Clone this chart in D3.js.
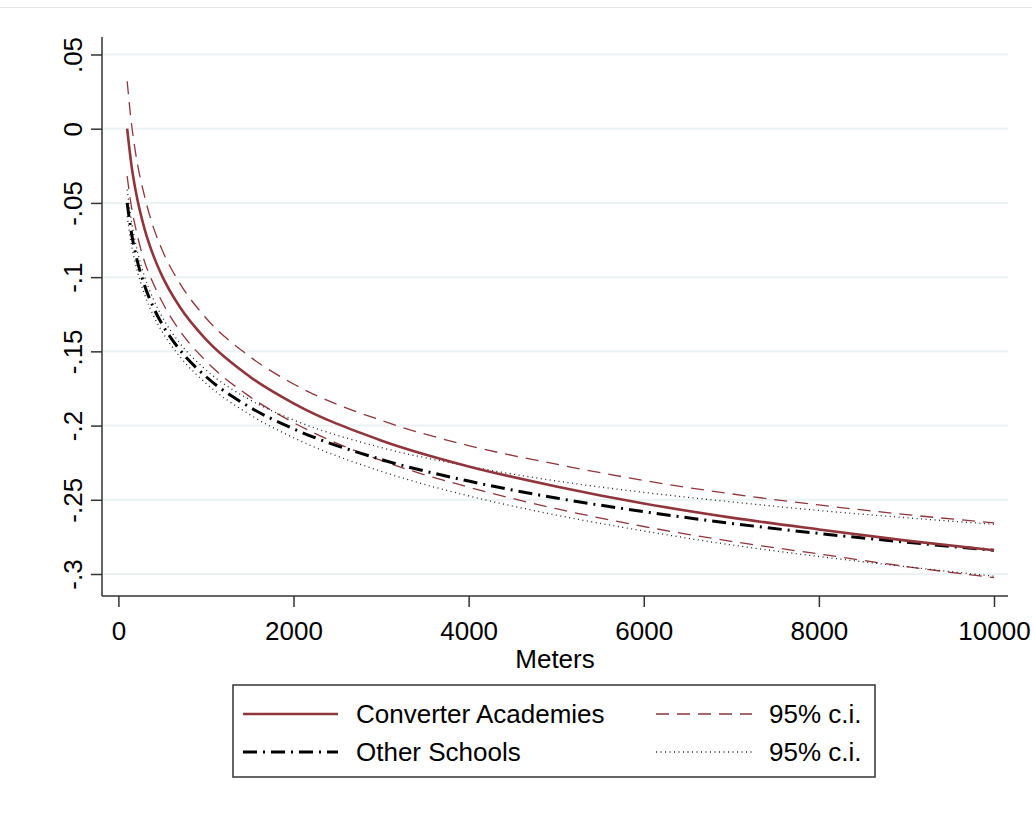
<!DOCTYPE html>
<html>
<head>
<meta charset="utf-8">
<script src="https://cdn.jsdelivr.net/npm/d3@7"></script>
<style>
  html, body { margin: 0; padding: 0; background: #fff; }
  svg { display: block; }
  text { font-family: "Liberation Sans", Arial, Helvetica, sans-serif; fill: #000; }
</style>
</head>
<body>
<script>
// ---- data ----
const meters = [100, 150, 200, 300, 400, 500, 700, 1000, 1500, 2000, 3000, 4000, 5000, 6000, 7000, 8000, 9000, 10000];
const converter = [0, -0.025, -0.0427, -0.0678, -0.0855, -0.0993, -0.120, -0.142, -0.167, -0.185, -0.210, -0.2275, -0.241, -0.2525, -0.262, -0.270, -0.2775, -0.284];
const converterUpper = [0.032, 0.003, -0.0177, -0.0458, -0.0665, -0.0818, -0.104, -0.1275, -0.1535, -0.172, -0.1965, -0.2135, -0.226, -0.237, -0.246, -0.2535, -0.260, -0.2655];
const converterLower = [-0.032, -0.053, -0.0677, -0.0898, -0.1045, -0.1168, -0.136, -0.1565, -0.1805, -0.198, -0.2235, -0.2415, -0.256, -0.268, -0.278, -0.2865, -0.295, -0.3025];
const other = [-0.050, -0.0706, -0.0852, -0.1058, -0.1204, -0.1318, -0.1489, -0.167, -0.1876, -0.2022, -0.2228, -0.2374, -0.2488, -0.2580, -0.2659, -0.2727, -0.2786, -0.284];
const otherUpper = [-0.041, -0.0626, -0.0782, -0.0998, -0.1149, -0.1268, -0.1444, -0.1625, -0.1826, -0.1962, -0.2148, -0.2274, -0.2373, -0.245, -0.2514, -0.2572, -0.2621, -0.2665];
const otherLower = [-0.059, -0.0786, -0.0922, -0.1118, -0.1259, -0.1368, -0.1534, -0.1715, -0.1926, -0.2082, -0.2308, -0.2474, -0.2603, -0.271, -0.2804, -0.2882, -0.2951, -0.3015];

const xTicks = [0, 2000, 4000, 6000, 8000, 10000];
const yTicks = [0.05, 0, -0.05, -0.1, -0.15, -0.2, -0.25, -0.3];
const yTickLabels = [".05", "0", "-.05", "-.1", "-.15", "-.2", "-.25", "-.3"];
const xTitle = "Meters";
const legendLabels = ["Converter Academies", "95% c.i.", "Other Schools", "95% c.i."];

// ---- layout ----
const W = 1032, H = 814;
const plot = { left: 102, right: 1008, top: 37, bottom: 596 };
const cranberry = "#90353b";

const svg = d3.select("body").append("svg").attr("width", W).attr("height", H);
svg.append("rect").attr("width", W).attr("height", H).attr("fill", "#fff");
svg.append("line").attr("x1", 0).attr("x2", W).attr("y1", 7.5).attr("y2", 7.5)
  .attr("stroke", "#e6e6e6").attr("stroke-width", 1);

const x = d3.scaleLinear().domain([0, 10000]).range([118.4, 994]);
const y = d3.scaleLinear().domain([0, -0.3]).range([128.7, 574]);

// gridlines
svg.append("g").selectAll("line").data(yTicks).join("line")
  .attr("x1", plot.left).attr("x2", plot.right)
  .attr("y1", d => y(d)).attr("y2", d => y(d))
  .attr("stroke", "#eaf2f3").attr("stroke-width", 2);

// y axis
const yAxis = d3.axisLeft(y).tickValues(yTicks).tickSize(11).tickFormat((d, i) => yTickLabels[i]);
const gy = svg.append("g").attr("transform", `translate(${plot.left},0)`).call(yAxis);
gy.select(".domain").remove();
gy.selectAll(".tick line").attr("stroke", "#333").attr("stroke-width", 1.5);
gy.selectAll(".tick text")
  .attr("x", 0).attr("dy", null).attr("y", 0)
  .attr("transform", "translate(-20,0) rotate(-90)")
  .attr("text-anchor", "middle")
  .style("font-size", "26px")
  .style("font-family", "'Liberation Sans', Arial, sans-serif")
  .attr("fill", "#000");
svg.append("line").attr("x1", plot.left).attr("x2", plot.left)
  .attr("y1", plot.top).attr("y2", plot.bottom).attr("stroke", "#333").attr("stroke-width", 1.5);

// x axis
const xAxis = d3.axisBottom(x).tickValues(xTicks).tickSize(11).tickFormat(d3.format("d"));
const gx = svg.append("g").attr("transform", `translate(0,${plot.bottom})`).call(xAxis);
gx.select(".domain").remove();
gx.selectAll(".tick line").attr("stroke", "#333").attr("stroke-width", 1.5);
gx.selectAll(".tick text")
  .attr("y", 43.5).attr("dy", null)
  .style("font-size", "26px")
  .style("font-family", "'Liberation Sans', Arial, sans-serif")
  .attr("fill", "#000");
svg.append("line").attr("x1", plot.left).attr("x2", plot.right)
  .attr("y1", plot.bottom).attr("y2", plot.bottom).attr("stroke", "#333").attr("stroke-width", 1.5);

svg.append("text").attr("x", (plot.left + plot.right) / 2).attr("y", 668)
  .attr("text-anchor", "middle").style("font-size", "26px").text(xTitle);

// series
const line = d3.line().x(d => x(d[0])).y(d => y(d[1])).curve(d3.curveMonotoneX);
const series = [
  { vals: converterUpper, stroke: cranberry, width: 1.3, dash: "13,8" },
  { vals: converterLower, stroke: cranberry, width: 1.3, dash: "13,8" },
  { vals: otherUpper, stroke: "#222", width: 1.3, dash: "1,3.5" },
  { vals: otherLower, stroke: "#222", width: 1.3, dash: "1,3.5" },
  { vals: other, stroke: "#000", width: 3, dash: "14,6,2,6" },
  { vals: converter, stroke: cranberry, width: 2.6, dash: null }
];
series.forEach(s => {
  svg.append("path")
    .datum(meters.map((m, i) => [m, s.vals[i]]))
    .attr("d", line)
    .attr("fill", "none")
    .attr("stroke", s.stroke)
    .attr("stroke-width", s.width)
    .attr("stroke-dasharray", s.dash);
});

// legend
const lg = svg.append("g");
lg.append("rect").attr("x", 233).attr("y", 685).attr("width", 642).attr("height", 92)
  .attr("fill", "#fff").attr("stroke", "#333").attr("stroke-width", 1.5);
const legendItems = [
  { x1: 243, x2: 338, ty: 714, tx: 356, stroke: cranberry, width: 2.6, dash: null, label: legendLabels[0] },
  { x1: 656, x2: 752, ty: 714, tx: 769, stroke: cranberry, width: 1.3, dash: "13,8", label: legendLabels[1] },
  { x1: 243, x2: 338, ty: 752, tx: 356, stroke: "#000", width: 3, dash: "14,6,2,6", label: legendLabels[2] },
  { x1: 656, x2: 752, ty: 752, tx: 769, stroke: "#222", width: 1.3, dash: "1,3.5", label: legendLabels[3] }
];
legendItems.forEach(it => {
  lg.append("line").attr("x1", it.x1).attr("x2", it.x2).attr("y1", it.ty).attr("y2", it.ty)
    .attr("stroke", it.stroke).attr("stroke-width", it.width).attr("stroke-dasharray", it.dash);
  lg.append("text").attr("x", it.tx).attr("y", it.ty + 9.3).style("font-size", "26px").text(it.label);
});
</script>
</body>
</html>
